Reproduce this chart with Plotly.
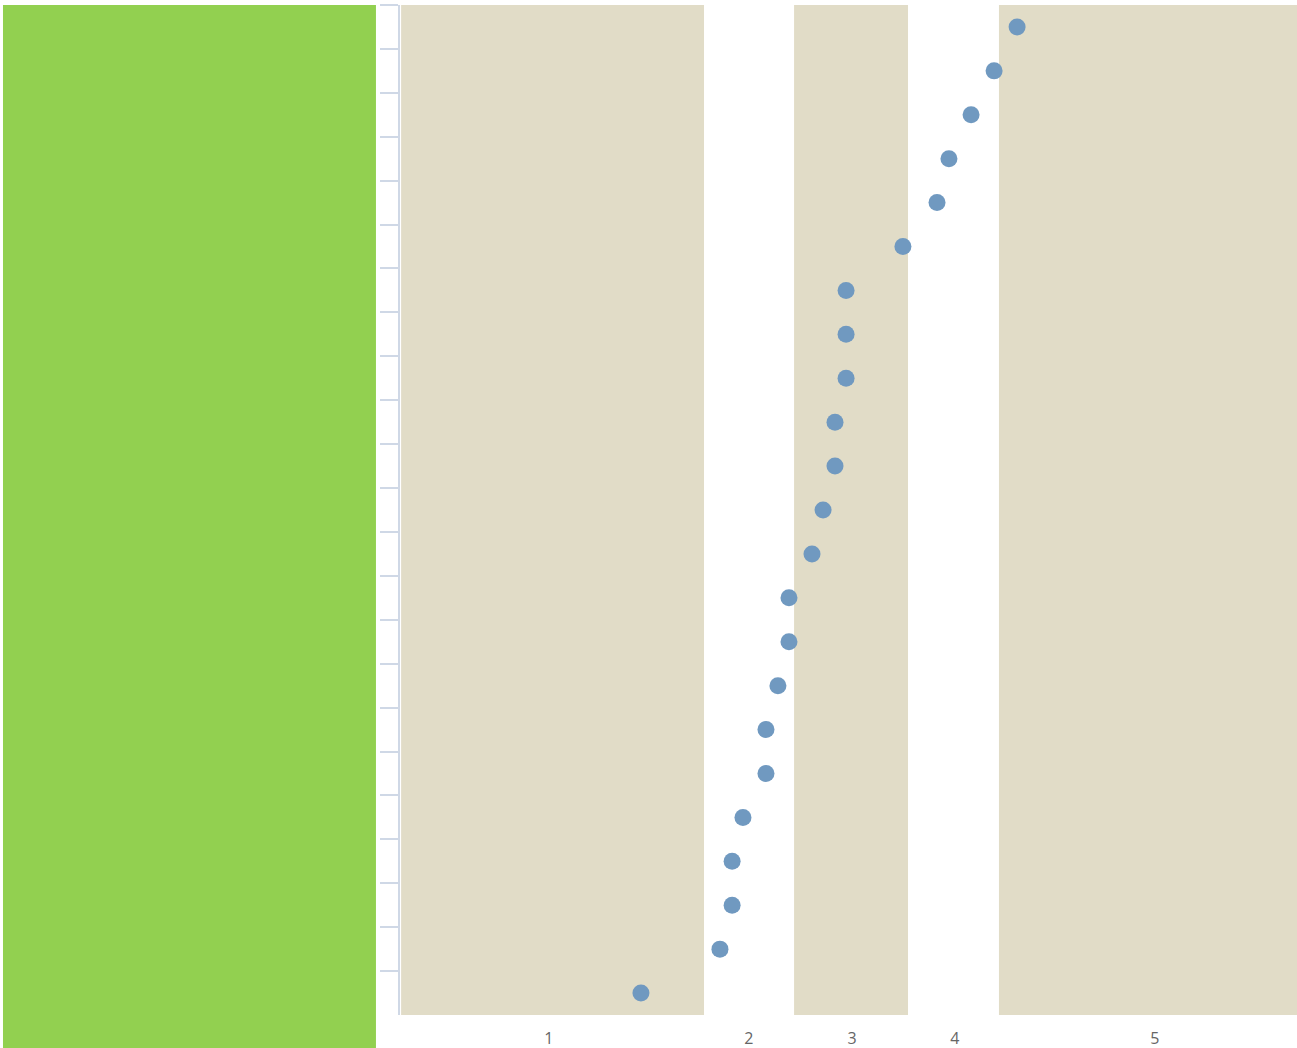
import plotly.graph_objects as go

# ---- data ----
items = [f"Item {i}" for i in range(1, 24)]  # top to bottom
scores = [3.749, 3.645, 3.541, 3.441, 3.387, 3.233, 2.976, 2.976, 2.976,
          2.926, 2.926, 2.872, 2.822, 2.718, 2.718, 2.668, 2.614, 2.614,
          2.510, 2.461, 2.461, 2.406, 2.049]
band_ranges = [(0.965, 2.334), (2.741, 3.256), (3.667, 5.014)]
tick_vals = [1.633, 2.537, 3.003, 3.468, 4.372]
tick_text = ["1", "2", "3", "4", "5"]
x_range = [0.96, 5.014]

W, H = 1297, 1048
fig = go.Figure()

fig.add_trace(go.Scatter(
    x=scores, y=items, mode="markers",
    marker=dict(color="#7099c0", size=17, line=dict(width=0)),
    hoverinfo="x+y", showlegend=False,
))

shapes = []
for b0, b1 in band_ranges:
    shapes.append(dict(type="rect", xref="x", yref="paper", x0=b0, x1=b1, y0=0, y1=1,
                       fillcolor="#e1dcc7", line=dict(width=0), layer="below"))
# green panel on the left
shapes.append(dict(type="rect", xref="paper", yref="paper", x0=-0.4426, x1=-0.0268,
                   y0=-0.0327, y1=1.0, fillcolor="#92d050", line=dict(width=0), layer="below"))

fig.update_layout(
    width=W, height=H,
    margin=dict(l=400, r=0, t=5, b=33),
    paper_bgcolor="white", plot_bgcolor="white",
    shapes=shapes,
    font=dict(family="Open Sans, sans-serif", size=16, color="#666666"),
    xaxis=dict(range=x_range, tickvals=tick_vals, ticktext=tick_text,
               showgrid=False, zeroline=False, showline=False, automargin=False,
               ticks="outside", ticklen=9, tickcolor="rgba(0,0,0,0)",
               tickfont=dict(size=16, color="#666666")),
    yaxis=dict(type="category", categoryarray=items, range=[22.5, -0.5],
               showticklabels=False, showgrid=False, zeroline=False, automargin=False,
               showline=True, linecolor="#cfd8e6", linewidth=2,
               ticks="outside", tickson="boundaries", ticklen=18,
               tickcolor="#cfd8e6", tickwidth=2),
)

fig.write_html("out.html", config={"displayModeBar": False},
               post_script="document.body.style.margin='0';document.body.style.overflow='hidden';")
